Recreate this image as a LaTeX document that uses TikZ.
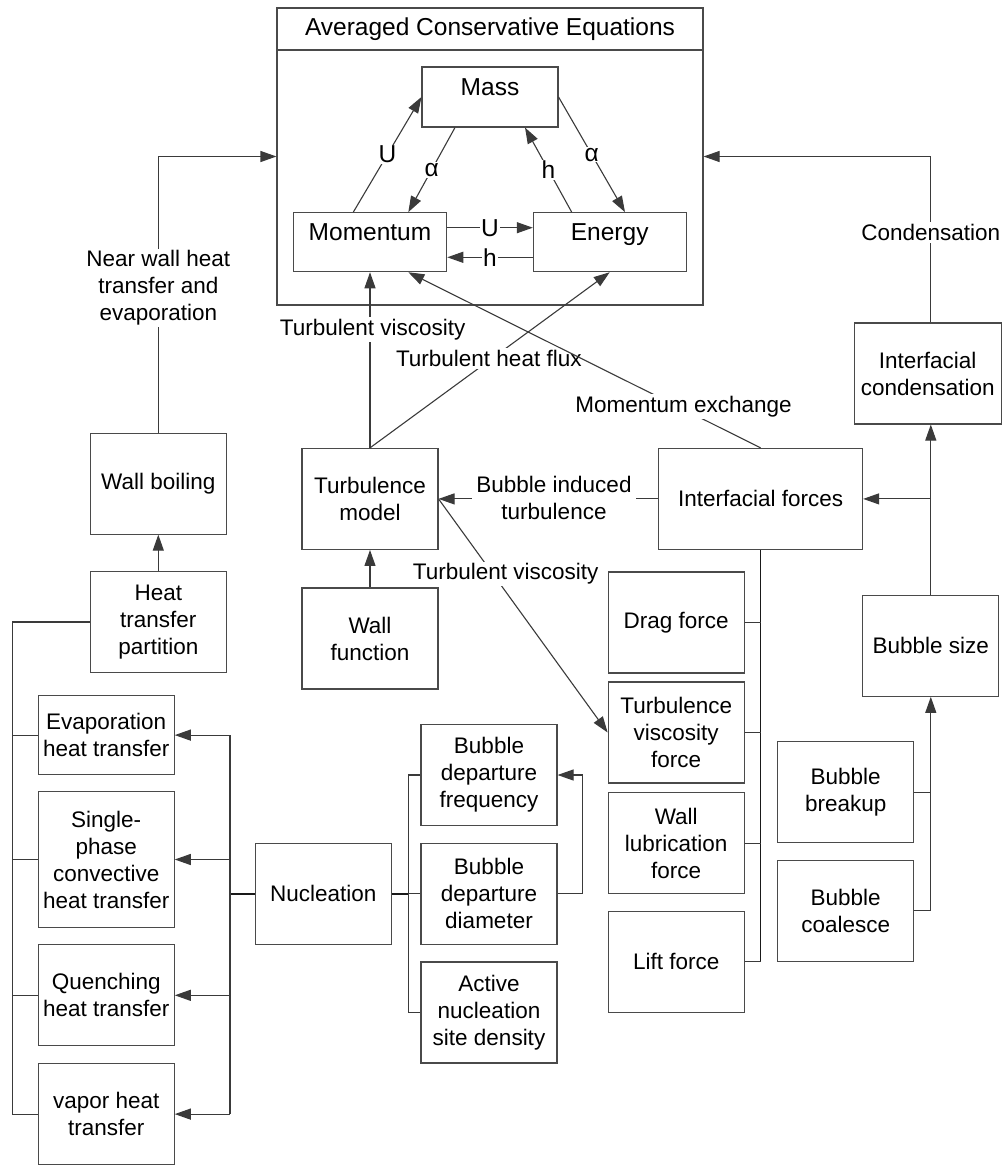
\documentclass[tikz,border=0pt]{standalone}
\usepackage{fontspec}
\setmainfont{Liberation Sans}
\usetikzlibrary{arrows.meta,calc}
\definecolor{ln}{HTML}{3A3A3A}
\definecolor{bd}{HTML}{4A4A4A}
\begin{document}
\begin{tikzpicture}[x=1pt,y=-1pt,
  every node/.style={font=\fontsize{22.5}{27}\selectfont, align=center},
  box/.style={draw=bd, line width=1.1pt, minimum width=136pt, minimum height=101pt, inner sep=2pt},
  tbox/.style={box, font=\fontsize{24.5}{29}\selectfont, minimum height=59pt, text height=17pt, text depth=20pt},
  conn/.style={draw=ln, line width=1.1pt},
  arr/.style={conn, -{Triangle[length=16pt,width=11pt]}},
  bus/.style={conn, line width=1.6pt, draw=black!90},
  lbl/.style={fill=white, inner sep=2pt},
  biglbl/.style={lbl, inner sep=1pt, font=\fontsize{24.5}{29}\selectfont}
]
\useasboundingbox (0,0) rectangle (1002,1167);

% ---------- Averaged conservative equations ----------
\node[box, minimum width=426pt, minimum height=297pt] (ace) at (490,156.5) {};
\node[box, minimum width=426pt, minimum height=42pt, font=\fontsize{24.5}{29}\selectfont] (title) at (490,29) {Averaged Conservative Equations};
\node[tbox, minimum width=136pt, minimum height=60pt] (mass) at (490,97) {Mass};
\node[tbox, minimum width=153.4pt] (momentum) at (370,242.2) {Momentum};
\node[tbox, minimum width=152.7pt] (energy) at (609.7,242.2) {Energy};

% ---------- left column ----------
\node[box] (wallboil) at (158.3,483.6) {Wall boiling};
\node[box] (htp) at (158.3,622) {Heat\\transfer\\partition};
\node[box, minimum height=78.4pt] (evap) at (106.2,735.1) {Evaporation\\heat transfer};
\node[box, minimum height=136pt] (single) at (106.2,859.5) {Single-\\phase\\convective\\heat transfer};
\node[box] (quench) at (106.2,995.3) {Quenching\\heat transfer};
\node[box] (vapor) at (106.2,1114.1) {vapor heat\\transfer};

% ---------- middle ----------
\node[box] (turb) at (370,498.9) {Turbulence\\model};
\node[box] (wallfn) at (370,638.5) {Wall\\function};
\node[box] (nucl) at (323.3,893.8) {Nucleation};
\node[box] (freq) at (489,775) {Bubble\\departure\\frequency};
\node[box] (diam) at (489,893.8) {Bubble\\departure\\diameter};
\node[box] (active) at (489,1012.5) {Active\\nucleation\\site density};

% ---------- right ----------
\node[box, minimum width=204pt] (intf) at (760.6,498.9) {Interfacial forces};
\node[box] (drag) at (676.2,622.5) {Drag force};
\node[box] (tvf) at (676.2,732.5) {Turbulence\\viscosity\\force};
\node[box] (wlf) at (676.2,843.2) {Wall\\lubrication\\force};
\node[box] (lift) at (676.2,961.7) {Lift force};
\node[box] (bsize) at (930.8,645.8) {Bubble size};
\node[box] (breakup) at (845.7,792.2) {Bubble\\breakup};
\node[box] (coalesce) at (845.7,910.8) {Bubble\\coalesce};
\node[box, minimum width=146.7pt] (icond) at (927.7,373.5) {Interfacial\\condensation};

% bus coordinates
\coordinate (lb) at (12.7,0);
\coordinate (rb) at (230,0);
\coordinate (nb) at (408.3,0);
\coordinate (db) at (582.3,0);

% ---------- triangle ----------
\draw[arr] ($(momentum.north)+(-16.7,0)$) -- node[biglbl]{U} (mass.west);
\draw[arr] ($(mass.south)+(-35,0)$) -- node[biglbl]{α} ($(momentum.north)+(38.3,0)$);
\draw[arr] ($(energy.north)+(-38,0)$) -- node[biglbl]{h} ($(mass.south)+(35,0)$);
\draw[arr] (mass.east) -- node[biglbl]{α} ($(energy.north)+(15.3,0)$);
\draw[arr] ($(momentum.east)+(0,-14.5)$) -- node[biglbl]{U} ($(energy.west)+(0,-14.5)$);
\draw[arr] ($(energy.west)+(0,15.1)$) -- node[biglbl]{h} ($(momentum.east)+(0,15.1)$);

% ---------- left side ----------
\draw[arr] (wallboil.north) -- (wallboil.north |- ace.west) -- (ace.west);
\node[lbl] (nwlbl) at (158.3,288) {Near wall heat\\transfer and\\evaporation};
\draw[arr] (htp.north) -- (wallboil.south);
\draw[conn] (htp.west) -- (lb |- htp.west) -- (lb |- vapor.west) -- (vapor.west);
\draw[conn] (lb |- evap.west) -- (evap.west);
\draw[conn] (lb |- single.west) -- (single.west);
\draw[conn] (lb |- quench.west) -- (quench.west);

\draw[bus] (nucl.west) -- (rb |- nucl.west);
\draw[conn] (rb |- evap.east) -- (rb |- vapor.east);
\draw[arr] (rb |- evap.east) -- (evap.east);
\draw[arr] (rb |- single.east) -- (single.east);
\draw[arr] (rb |- quench.east) -- (quench.east);
\draw[arr] (rb |- vapor.east) -- (vapor.east);

% ---------- nucleation ----------
\draw[bus] (nucl.east) -- (nb |- nucl.east);
\draw[conn] (freq.west) -- (nb |- freq.west) -- (nb |- active.west) -- (active.west);
\draw[conn] (nb |- diam.west) -- (diam.west);
\draw[arr] (diam.east) -- (db |- diam.east) -- (db |- freq.east) -- (freq.east);

% ---------- turbulence ----------
\draw[arr] (wallfn.north) -- (turb.south);
\draw[arr] (turb.north) -- (momentum.south);
\node[lbl] (tvlbl) at (372.7,329.3) {Turbulent viscosity};
\draw[arr] (turb.north) -- (energy.south);
\node[lbl] (thflbl) at (488.8,358.3) {Turbulent heat flux};
\draw[arr] (intf.north) -- ($(momentum.south)+(38.3,0)$);
\node[lbl] (melbl) at (683.5,406.7) {Momentum exchange};
\draw[arr] (intf.west) -- (turb.east);
\node[lbl, inner sep=4pt] (bitlbl) at (554,498) {Bubble induced\\turbulence};
\draw[arr] (turb.east) -- (tvf.west);
\node[lbl] (tv2lbl) at (505.7,574) {Turbulent viscosity};

% ---------- interfacial forces ----------
\draw[bus] (intf.south) -- (intf.south |- lift.east);
\draw[conn] (drag.east) -- (intf.south |- drag.east);
\draw[conn] (tvf.east) -- (intf.south |- tvf.east);
\draw[conn] (wlf.east) -- (intf.south |- wlf.east);
\draw[conn] (lift.east) -- (intf.south |- lift.east);

% ---------- bubble size / condensation ----------
\draw[conn] (breakup.east) -- (bsize.south |- breakup.east);
\draw[arr] (coalesce.east) -- (bsize.south |- coalesce.east) -- (bsize.south);
\draw[arr] (bsize.north) -- (bsize.north |- icond.south);
\draw[arr] (bsize.north |- intf.east) -- (intf.east);
\draw[arr] (bsize.north |- icond.north) -- (bsize.north |- ace.east) -- (ace.east);
\node[lbl] (condlbl) at (930.7,232.7) {Condensation};
\end{tikzpicture}
\end{document}
